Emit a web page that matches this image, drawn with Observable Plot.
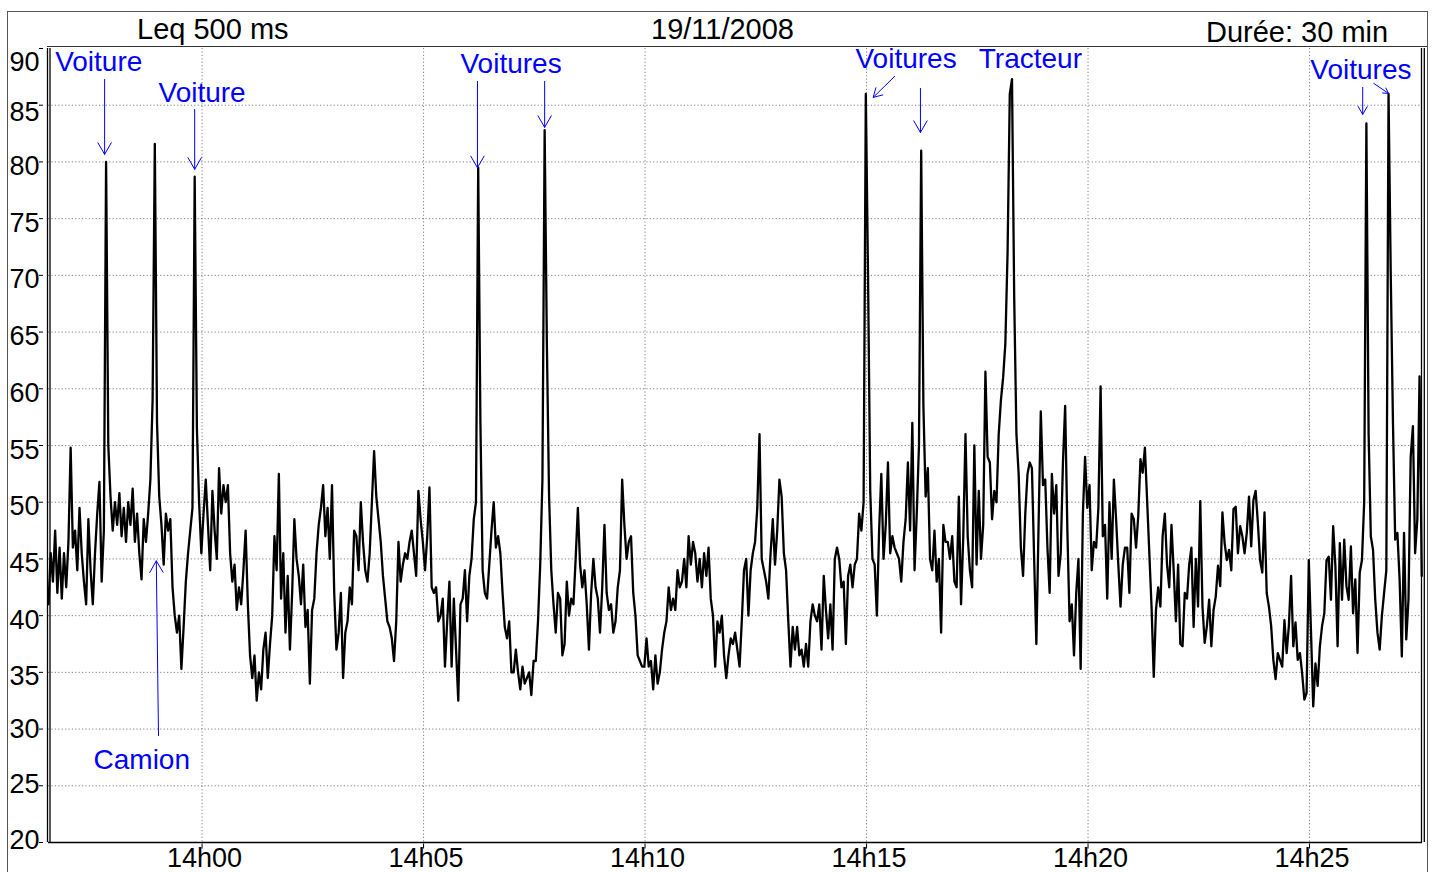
<!DOCTYPE html>
<html>
<head>
<meta charset="utf-8">
<script src="https://cdn.jsdelivr.net/npm/d3@7"></script>
<script src="https://cdn.jsdelivr.net/npm/@observablehq/plot@0.6"></script>
<style>
  html, body { margin: 0; padding: 0; background: #fff; overflow: hidden; }
  #page { position: relative; width: 1434px; height: 872px; overflow: hidden; background: #fff;
          font-family: "Liberation Sans", Arial, Helvetica, sans-serif; }
  #outer { position: absolute; left: 7px; top: 11px; width: 1419px; height: 900px;
           border: 1px solid #555; border-bottom: none; }
  #header { position: absolute; left: 47px; top: 11px; width: 1380px; height: 35px;
            border-bottom: 1.5px solid #333; }
  .head { position: absolute; font-size: 29px; line-height: 29px; color: #000; white-space: nowrap; }
  #chart { position: absolute; left: 0; top: 47px; }
</style>
</head>
<body>
<div id="page">
  <div id="outer"></div>
  <div id="header"></div>
  <div class="head" style="left:137px; top:14.5px;">Leq 500 ms</div>
  <div class="head" style="left:651px; top:15px;">19/11/2008</div>
  <div class="head" style="left:1206px; top:17.5px;">Durée: 30 min</div>
  <div id="chart"></div>
</div>
<script>
// Leq 500 ms sound level record (dB), one reading every 3 s from 13:56:32
const startTime = "13:56:32";
const stepSeconds = 3;
const leq = [
  41, 45.5, 43, 47.5, 42, 46, 41.5, 45.5, 42.5, 46.5, 54.8, 46, 47.5, 44, 49.5, 45.5, 43, 41, 48.5, 44,
  41, 45.5, 49, 51.8, 43, 47.5, 80, 55, 50.5, 47.5, 50, 48, 50.8, 47, 49.5, 46.5, 50, 48, 51.2, 46.5,
  49, 45.5, 43.2, 48.5, 46.5, 49, 52, 59, 81.6, 57, 50.5, 48, 44.5, 49, 47.5, 48.5, 42.5, 40, 38.5, 40,
  35.3, 39, 43, 45.5, 47.5, 49.5, 78.7, 56.5, 50, 45.5, 49, 52, 48, 44, 51, 47.5, 45, 53, 49, 51.5,
  50, 51.5, 45.5, 43, 44.5, 40.5, 42.5, 41, 44, 47.5, 41, 36.5, 34.5, 36.5, 32.5, 35, 33.5, 37, 38.5, 34.5,
  37.5, 40, 47, 44, 52.5, 41.5, 45.5, 38.5, 43.5, 37, 42, 48.5, 45, 43.5, 41, 44.5, 39, 40.5, 34, 40.5,
  41.5, 45.5, 48, 49.5, 51.5, 47, 49.5, 45, 51.5, 42, 37, 38.5, 42, 34.5, 38.5, 39.5, 42.5, 41, 47.5, 47,
  44, 50, 46.5, 44, 43, 45.5, 50, 54.5, 50.5, 48.5, 46.5, 43.5, 41.5, 39.5, 39, 38, 36, 39.5, 46.5, 43,
  44.5, 45.5, 45, 46.5, 47.5, 45.5, 43.5, 51, 48.5, 46.5, 44, 47, 51.3, 42.5, 42, 42.5, 39.5, 40, 41.5, 35.5,
  39.5, 43, 35.5, 41.5, 37, 32.5, 41, 41.5, 44, 39.5, 43.5, 45, 48.5, 50, 79.5, 57, 44, 42, 41.5, 44.5,
  47.5, 50, 46, 47, 45.5, 42, 39, 38, 39.5, 35, 35, 37, 35, 33.5, 35.5, 34, 34.5, 35, 33, 36,
  36, 39.5, 44.5, 52, 82.8, 64, 50.5, 44, 41, 38.5, 42, 41.5, 36.5, 37.5, 43, 40, 41.5, 41, 45, 49.5,
  44.5, 42.5, 44, 41, 37, 42, 45, 42.5, 41.5, 38.5, 42.5, 48, 42, 40.5, 41, 38.5, 39.5, 42.5, 44, 52,
  48, 45, 46.5, 47, 42, 40, 36.5, 36, 35.5, 35.5, 38, 35.5, 36, 33.5, 36.5, 34, 35, 37, 38.5, 39.5,
  42.5, 40.5, 41.5, 40.5, 44, 42.5, 43, 45, 42.5, 47, 44.5, 46.5, 45.5, 43, 45, 42.5, 45.5, 43.5, 46, 41.5,
  40, 35.5, 39.5, 38.5, 40, 36.5, 34.5, 36.5, 38, 37.5, 38.5, 37, 35.5, 39.5, 44, 45, 40, 44, 45.5, 46.5,
  49.5, 56, 45, 44, 43, 41.5, 45.5, 48.5, 44.5, 47.5, 52, 50.5, 45.5, 44, 39.5, 35.5, 39, 37, 39, 36.5,
  37, 35.5, 37.5, 35.5, 39.5, 41, 40, 39.5, 41, 37, 43.5, 40.5, 38, 41, 37, 45, 46, 45, 42.5, 43,
  37.5, 43.5, 44.5, 42.5, 44.5, 45, 49, 47.5, 50, 86, 70, 51, 45, 44.5, 40, 47.5, 52.5, 45, 48, 53.5,
  45.5, 47, 46, 45.5, 45, 43, 46.5, 48.5, 53.5, 47.5, 57, 44, 49, 55, 81, 58.5, 50.5, 53, 45, 44,
  47.5, 43, 45, 38.5, 48, 46.5, 46.5, 45, 47, 43, 42.5, 50.5, 41, 47, 56, 47, 44, 42.5, 55, 44.5,
  51, 45, 48, 61.5, 54, 53.5, 48.5, 51, 50, 56, 59, 61, 64, 72, 86, 87.3, 68, 56, 52.5, 46,
  43.5, 49, 52.5, 53.5, 53, 45, 37.5, 48, 58, 51.5, 52, 46, 42, 52.5, 49, 51.5, 43.5, 45.5, 53.5, 58.5,
  47.5, 39.5, 41, 36.5, 42, 45, 35.3, 49, 54, 49.5, 51.5, 44, 46.5, 46, 49.5, 60.2, 47, 48, 41.5, 50,
  45, 52, 48.5, 44.5, 40.8, 44.5, 46, 46, 42, 49, 48.5, 46, 48.8, 53.8, 52.6, 54.8, 50.2, 45.5, 40.8, 34.6,
  40.5, 42.5, 40.8, 47, 49, 44.5, 42.5, 48, 44, 39.5, 44.5, 37.5, 37.3, 42, 41.5, 44.5, 46, 39, 45, 40.8,
  50.1, 40.8, 37.6, 39.1, 41.4, 37.3, 40.5, 41.7, 44.4, 42.6, 49.1, 46.4, 44.9, 45.8, 44, 49.4, 49.6, 45.5, 47.9, 47,
  45.5, 47.3, 50.5, 46.1, 50.2, 51, 48.2, 44.9, 43.8, 49.1, 42, 40.8, 39.1, 36.1, 34.4, 36.7, 36.1, 35.5, 39.6, 36.7,
  39.1, 43.5, 37.3, 39.4, 36.1, 36.7, 34.9, 32.6, 33.2, 44.9, 38.5, 32, 35.8, 33.8, 37.3, 39.1, 40.2, 44.9, 45.2, 41.4,
  47.9, 44.4, 37.3, 46.4, 41.4, 46.7, 42.6, 41.4, 46.1, 40.2, 43.2, 36.7, 43.8, 44.9, 50, 83.4, 56.1, 47, 45.8, 41.4,
  38.5, 37, 40, 42, 44, 86, 70, 57, 46.7, 47.3, 43.2, 36.4, 47.3, 37.9, 41.4, 54, 56.7, 45.5, 48.5, 61.1,
  43.5
];

// time window and axes
const timeDomain = ["13:56:32", "14:27:33"];
const timeTicks = ["14:00", "14:05", "14:10", "14:15", "14:20", "14:25"];
const levelTicks = [20, 25, 30, 35, 40, 45, 50, 55, 60, 65, 70, 75, 80, 85, 90];
const gridLevels = [25, 30, 35, 40, 45, 50, 55, 60, 65, 70, 75, 80, 85];

// event labels (text start, baseline level)
const noteLabels = ["Voiture", "Voiture", "Voitures", "Voitures", "Tracteur", "Camion", "Voitures"];
const noteTimes = ["13:56:41", "13:59:01", "14:05:50", "14:14:45", "14:17:32", "13:57:33", "14:25:01"];
const noteLevels = [88.0, 85.25, 87.8, 88.3, 88.3, 26.5, 87.35];

// arrows pointing at the events
const arrowFromTimes = ["13:57:48", "13:59:50", "14:06:13", "14:07:44", "14:15:38", "14:16:13", "13:59:01", "14:26:12", "14:26:27"];
const arrowFromLevels = [87.27, 84.63, 87.1, 87.1, 87.54, 86.48, 29.42, 86.57, 86.92];
const arrowToTimes = ["13:57:48", "13:59:50", "14:06:13", "14:07:44", "14:15:09", "14:16:13", "13:58:58", "14:26:12", "14:26:47"];
const arrowToLevels = [80.67, 79.35, 79.49, 83.05, 85.69, 82.6, 44.83, 84.19, 86.04];

const at = (hms) => new Date(`2008-11-19T${hms.length === 5 ? hms + ":00" : hms}Z`);
const t0 = at(startTime).getTime();
const series = leq.map((level, i) => ({time: new Date(t0 + i * stepSeconds * 1000), level}));
const notes = noteLabels.map((label, i) => ({label, time: at(noteTimes[i]), level: noteLevels[i]}));
const arrows = arrowFromTimes.map((t, i) => ({
  t1: at(t), l1: arrowFromLevels[i], t2: at(arrowToTimes[i]), l2: arrowToLevels[i]
}));
const [xStart, xEnd] = timeDomain.map(at);
const ticksX = timeTicks.map(at);

// y labels sit slightly off their gridlines, like the original software's layout
const yLabelGroups = [
  {ticks: [90], dy: 14},
  {ticks: [85], dy: 7.5},
  {ticks: [80, 75, 70, 65, 60, 55, 50, 45, 40, 35], dy: 4.5},
  {ticks: [30], dy: 0.5},
  {ticks: [25], dy: -1.5},
  {ticks: [20], dy: -2.5}
];

const blue = "#0000ff";
const dotted = {stroke: "#808080", strokeOpacity: 1, strokeWidth: 1, strokeDasharray: "1.2,2.2"};

const chart = Plot.plot({
  width: 1434,
  height: 836,
  marginTop: 1,
  marginBottom: 41,
  marginLeft: 48,
  marginRight: 12,
  style: {fontFamily: "'Liberation Sans', Arial, Helvetica, sans-serif", fontSize: "28px", color: "#000", background: "transparent", overflow: "visible"},
  x: {type: "utc", domain: [xStart, xEnd], axis: null},
  y: {domain: [20, 90], axis: null},
  marks: [
    Plot.gridY(gridLevels, dotted),
    Plot.gridX(ticksX, dotted),
    Plot.line(series, {x: "time", y: "level", stroke: "#000", strokeWidth: 2.3}),
    // plot frame: double side lines and the bottom line
    Plot.ruleX([xStart], {stroke: "#000", strokeWidth: 1.3, dx: -1}),
    Plot.ruleX([xStart], {stroke: "#000", strokeWidth: 1.3, dx: 1.5}),
    Plot.ruleX([xEnd], {stroke: "#000", strokeWidth: 1.3, dx: -1}),
    Plot.ruleX([xEnd], {stroke: "#000", strokeWidth: 1.3, dx: 1.8}),
    Plot.ruleY([20], {stroke: "#000", strokeWidth: 1.5}),
    // tick marks
    Plot.axisY(levelTicks, {tickSize: 4, dx: -5, tickFormat: () => "", stroke: "#000"}),
    Plot.axisX(ticksX, {tickSize: 5, dy: 1.5, tickFormat: () => "", stroke: "#000"}),
    // tick labels
    ...yLabelGroups.map((g) => Plot.axisY(g.ticks, {tickSize: 0, tickPadding: 9, dy: g.dy, fontSize: 27, fill: "#000"})),
    Plot.axisX(ticksX, {tickSize: 0, tickPadding: 5, dx: 2.5, fontSize: 27, fill: "#000", tickFormat: d3.utcFormat("%Hh%M")}),
    // event annotations
    Plot.arrow(arrows, {x1: "t1", y1: "l1", x2: "t2", y2: "l2", stroke: blue, strokeWidth: 1, headLength: 20, headAngle: 60}),
    Plot.text(notes, {x: "time", y: "level", text: "label", textAnchor: "start", lineAnchor: "bottom", fill: blue, fontSize: 28})
  ]
});
document.getElementById("chart").append(chart);
</script>
</body>
</html>
